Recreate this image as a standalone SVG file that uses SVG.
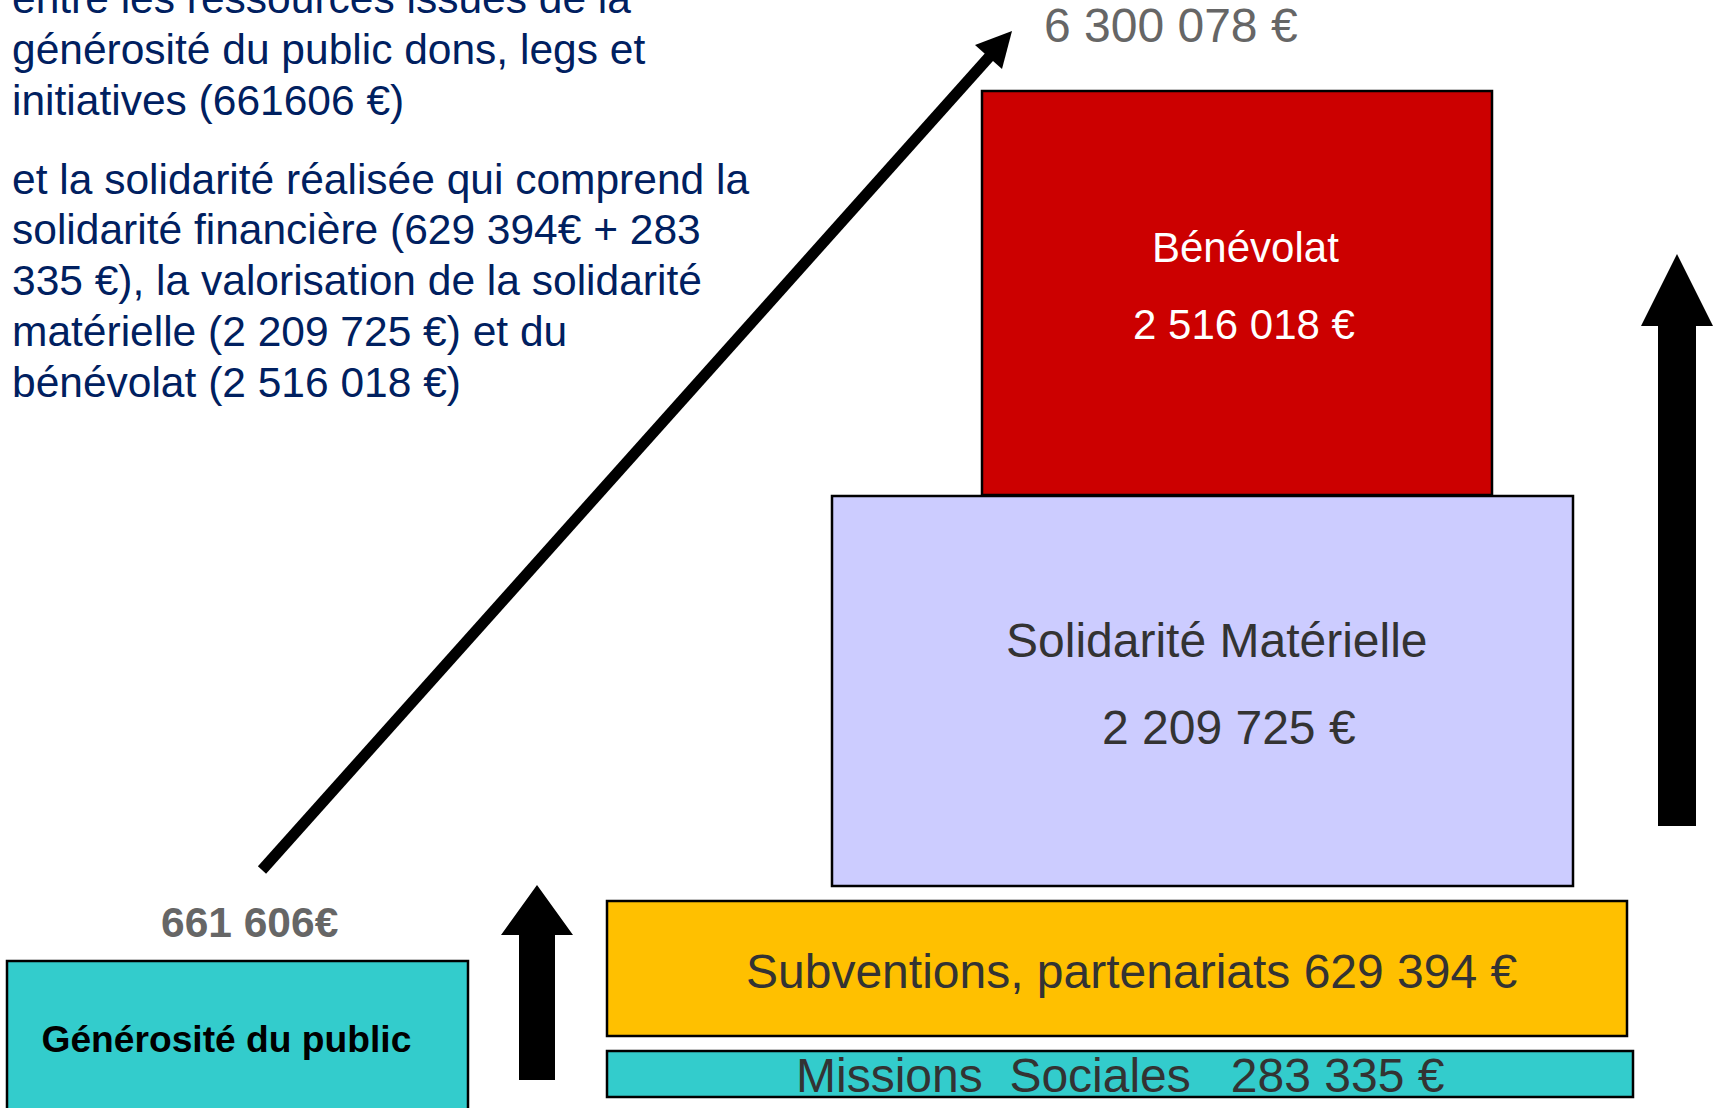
<svg xmlns="http://www.w3.org/2000/svg" width="1718" height="1108" viewBox="0 0 1718 1108">
<style>
text{font-family:"Liberation Sans",Arial,sans-serif}
.para{font-size:42.5px;fill:#002060}
.box{stroke:#000;stroke-width:2.5}
.lbl{font-size:48px;fill:#333}
.wlbl{font-size:42px;fill:#fff}
.arrow{fill:#000}
</style>
<rect width="1718" height="1108" fill="#fff"/>
<g id="intro-text" class="para">
<text x="12" y="13">entre les ressources issues de la</text>
<text x="12" y="64">générosité du public dons, legs et</text>
<text x="12" y="114.5">initiatives (661606 €)</text>
<text x="12" y="193.5">et la solidarité réalisée qui comprend la</text>
<text x="12" y="244.3">solidarité financière (629 394€ + 283</text>
<text x="12" y="295">335 €), la valorisation de la solidarité</text>
<text x="12" y="345.7">matérielle (2 209 725 €) et du</text>
<text x="12" y="396.7">bénévolat (2 516 018 €)</text>
</g>
<g id="total-label">
<text x="1044" y="42" font-size="48" fill="#666">6 300 078 €</text>
</g>
<g id="benevolat">
<rect class="box" x="982" y="91" width="510" height="404" fill="#CC0000"/>
<text class="wlbl" x="1152" y="262">Bénévolat</text>
<text class="wlbl" x="1133" y="339">2 516 018 €</text>
</g>
<g id="solidarite-materielle">
<rect class="box" x="832" y="496" width="741" height="390" fill="#CCCCFF"/>
<text class="lbl" x="1006" y="657" font-size="47">Solidarité Matérielle</text>
<text class="lbl" x="1102" y="744">2 209 725 €</text>
</g>
<g id="subventions">
<rect class="box" x="607" y="901" width="1020" height="135" fill="#FFC000"/>
<text class="lbl" x="746" y="988">Subventions, partenariats 629 394 €</text>
</g>
<g id="missions-sociales">
<rect class="box" x="607" y="1051" width="1026" height="46" fill="#33CCCC"/>
<text class="lbl" x="796" y="1092" xml:space="preserve">Missions  Sociales   283 335 €</text>
</g>
<g id="generosite">
<text x="161" y="937" font-size="42.5" font-weight="bold" fill="#666">661 606€</text>
<rect class="box" x="7" y="961" width="461" height="170" fill="#33CCCC"/>
<text x="41.5" y="1052" font-size="37.2" font-weight="bold" fill="#000">Générosité du public</text>
</g>
<g id="connectors">
<line x1="262" y1="870" x2="990" y2="56" stroke="#000" stroke-width="11"/>
<polygon class="arrow" points="1012,31 975,45 1002,69"/>
<polygon class="arrow" points="537,885 573,935 555,935 555,1080 519,1080 519,935 501,935"/>
<polygon class="arrow" points="1677,254 1713,326 1696,326 1696,826 1658,826 1658,326 1641,326"/>
</g>
</svg>
